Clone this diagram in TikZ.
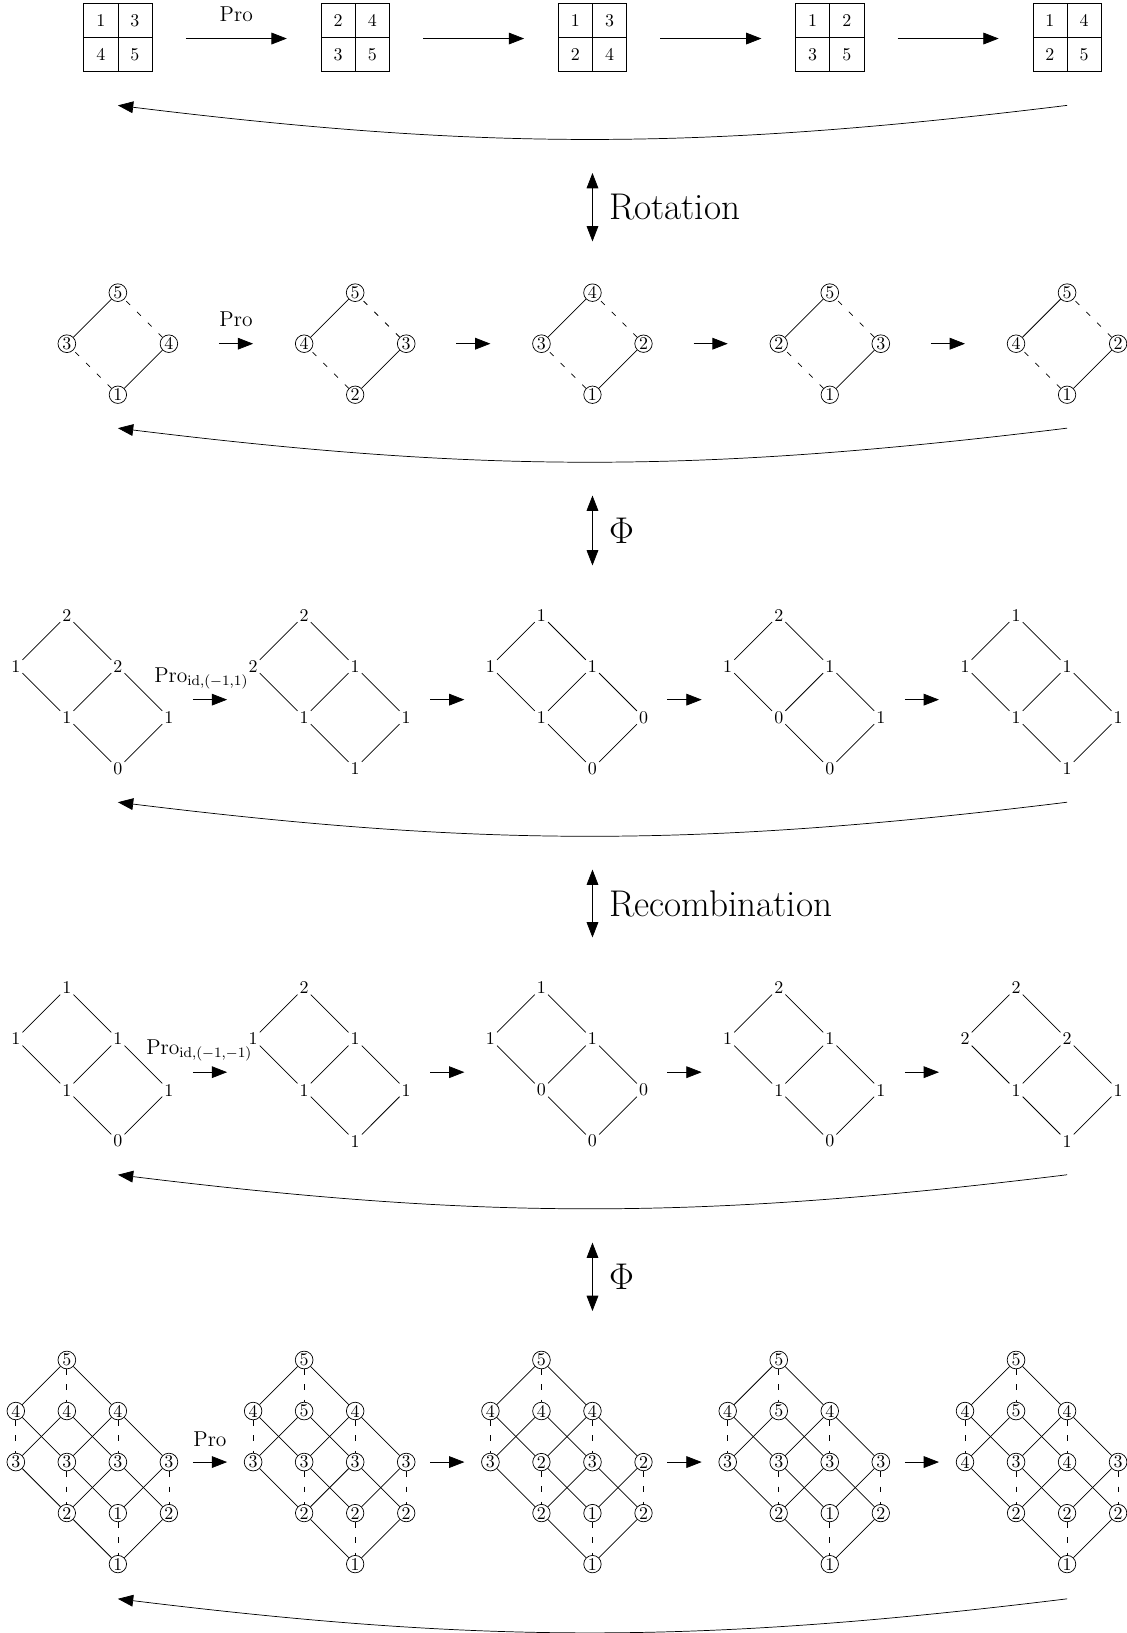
\documentclass[tikz,border=0pt]{standalone}
\usepackage{amsmath}
\usepackage{amssymb}
\usetikzlibrary{arrows.meta,positioning}

% 2x2 tableau: name, centre x, centre y, entries
\newcommand{\tabl}[7]{%
  \begin{scope}[shift={(#2,#3)}]
    \path
    node[cell] (#1a) at (-0.335,0.335) {#4}
    node[cell, right=6.7mm of #1a] (#1b) {#5}
    node[cell, below=6.7mm of #1a] (#1c) {#6}
    node[cell, right=6.7mm of #1c] (#1d) {#7};
    \coordinate (#1in) at (-1.34,-0.02);
    \coordinate (#1out) at (1.33,-0.02);
    \coordinate (#1ret) at (0,-1.33);
  \end{scope}}

% diamond: name, x, y (bottom), top, left, right, bottom
\newcommand{\diam}[7]{%
  \begin{scope}[shift={(#2,#3)}]
    \path
    node[circ] (#1b) at (0,0) {#7}
    node[circ, above left=1cm and 1cm of #1b] (#1l) {#5}
    node[circ, above right=1cm and 1cm of #1b] (#1r) {#6}
    node[circ, above right=1cm and 1cm of #1l] (#1t) {#4}
    (#1l) edge (#1t)
    (#1b) edge (#1r)
    (#1b) edge[dashes] (#1l)
    (#1r) edge[dashes] (#1t);
    \coordinate (#1in) at (-2.0,1);
    \coordinate (#1out) at (1.98,1);
    \coordinate (#1ret) at (0,-0.655);
  \end{scope}}

% ladder: name, x, y (bottom), top, left, right, mid, right2, bottom
\newcommand{\ladder}[9]{%
  \begin{scope}[shift={(#2,#3)}]
    \path
    node[num] (#1b) at (0,0) {#9}
    node[num, above left=1cm and 1cm of #1b] (#1m) {#7}
    node[num, above right=1cm and 1cm of #1b] (#1s) {#8}
    node[num, above left=1cm and 1cm of #1m] (#1l) {#5}
    node[num, above right=1cm and 1cm of #1m] (#1r) {#6}
    node[num, above left=1cm and 1cm of #1r] (#1t) {#4}
    (#1t) edge (#1l)
    (#1t) edge (#1r)
    (#1l) edge (#1m)
    (#1r) edge (#1m)
    (#1r) edge (#1s)
    (#1m) edge (#1b)
    (#1s) edge (#1b);
    \coordinate (#1in) at (-2.51,1.35);
    \coordinate (#1out) at (1.47,1.35);
    \coordinate (#1ret) at (0,-0.66);
  \end{scope}}

% cube: name, x, y (bottom), values read top-down, left-right
\newcommand{\cube}[4]{%
  \begin{scope}[shift={(#2,#3)}]
    \foreach \x/\y [count=\k from 0] in {-1/4,-2/3,-1/3,0/3,-2/2,-1/2,0/2,1/2,-1/1,0/1,1/1,0/0} {
      \pgfmathtruncatemacro{\val}{{#4}[\k]}
      \node[circ] (#1-\k) at (\x,\y) {\val};
    }
    \foreach \i/\j in {0/1,0/3,1/5,2/4,2/6,3/5,3/7,4/8,5/9,6/8,6/10,7/9,8/11,10/11}
      \draw (#1-\i) -- (#1-\j);
    \foreach \i/\j in {0/2,1/4,3/6,5/8,7/10,9/11}
      \draw[dashes] (#1-\i) -- (#1-\j);
    \coordinate (#1in) at (-2.51,2);
    \coordinate (#1out) at (1.47,2);
    \coordinate (#1ret) at (0,-0.68);
  \end{scope}}

\begin{document}
\begin{tikzpicture}[>={Triangle[length=3mm,width=2.3mm]}, on grid]
	\tikzstyle{cell} = [draw, minimum size=6.7mm, inner sep=0pt]
	\tikzstyle{circ} = [draw, circle, inner sep=0.5pt]
	\tikzstyle{num} = [inner sep=1pt]
	\tikzstyle{dashes} = [dash pattern=on 3pt off 5.5pt]
	\tikzstyle{lab} = [font=\large]
	\tikzstyle{big} = [font=\huge]
	\useasboundingbox (0,0) rectangle (22.08,-32);

	% tableaux
	\tabl{t1}{2.31}{-0.735}{1}{3}{4}{5}
	\tabl{t2}{6.96}{-0.735}{2}{4}{3}{5}
	\tabl{t3}{11.61}{-0.735}{1}{3}{2}{4}
	\tabl{t4}{16.26}{-0.735}{1}{2}{3}{5}
	\tabl{t5}{20.91}{-0.735}{1}{4}{2}{5}
	\draw[->] (t1out) -- node[lab, yshift=4.7mm] {Pro} (t2in);
	\draw[->] (t2out) -- (t3in);
	\draw[->] (t3out) -- (t4in);
	\draw[->] (t4out) -- (t5in);
	\draw[->] (t5ret) to[bend left=7] (t1ret);

	\coordinate (rot1) at (11.61,-3.39);
	\coordinate (rot2) at (11.61,-4.73);
	\draw[<->] (rot1) -- node[big, right=2mm] {Rotation} (rot2);

	% diamonds
	\diam{d1}{2.31}{-7.735}{5}{3}{4}{1}
	\diam{d2}{6.96}{-7.735}{5}{4}{3}{2}
	\diam{d3}{11.61}{-7.735}{4}{3}{2}{1}
	\diam{d4}{16.26}{-7.735}{5}{2}{3}{1}
	\diam{d5}{20.91}{-7.735}{5}{4}{2}{1}
	\draw[->] (d1out) -- node[lab, yshift=4.7mm] {Pro} (d2in);
	\draw[->] (d2out) -- (d3in);
	\draw[->] (d3out) -- (d4in);
	\draw[->] (d4out) -- (d5in);
	\draw[->] (d5ret) to[bend left=7] (d1ret);

	\coordinate (phi1) at (11.61,-9.71);
	\coordinate (phi2) at (11.61,-11.08);
	\draw[<->] (phi1) -- node[big, right=2mm] {$\Phi$} (phi2);

	% ladders
	\ladder{a1}{2.31}{-15.06}{2}{1}{2}{1}{1}{0}
	\ladder{a2}{6.96}{-15.06}{2}{2}{1}{1}{1}{1}
	\ladder{a3}{11.61}{-15.06}{1}{1}{1}{1}{0}{0}
	\ladder{a4}{16.26}{-15.06}{2}{1}{1}{0}{1}{0}
	\ladder{a5}{20.91}{-15.06}{1}{1}{1}{1}{1}{1}
	\draw[->] (a1out) -- node[lab, yshift=4.2mm, xshift=-1.7mm] {$\mathrm{Pro}_{\mathrm{id},(-1,1)}$} (a2in);
	\draw[->] (a2out) -- (a3in);
	\draw[->] (a3out) -- (a4in);
	\draw[->] (a4out) -- (a5in);
	\draw[->] (a5ret) to[bend left=7] (a1ret);

	\coordinate (rec1) at (11.61,-17.04);
	\coordinate (rec2) at (11.61,-18.37);
	\draw[<->] (rec1) -- node[big, right=2mm] {Recombination} (rec2);

	\ladder{b1}{2.31}{-22.36}{1}{1}{1}{1}{1}{0}
	\ladder{b2}{6.96}{-22.36}{2}{1}{1}{1}{1}{1}
	\ladder{b3}{11.61}{-22.36}{1}{1}{1}{0}{0}{0}
	\ladder{b4}{16.26}{-22.36}{2}{1}{1}{1}{1}{0}
	\ladder{b5}{20.91}{-22.36}{2}{2}{2}{1}{1}{1}
	\draw[->] (b1out) -- node[lab, yshift=4.2mm, xshift=-2.1mm] {$\mathrm{Pro}_{\mathrm{id},(-1,-1)}$} (b2in);
	\draw[->] (b2out) -- (b3in);
	\draw[->] (b3out) -- (b4in);
	\draw[->] (b4out) -- (b5in);
	\draw[->] (b5ret) to[bend left=7] (b1ret);

	\coordinate (phi3) at (11.61,-24.35);
	\coordinate (phi4) at (11.61,-25.69);
	\draw[<->] (phi3) -- node[big, right=2mm] {$\Phi$} (phi4);

	% cubes
	\cube{c1}{2.31}{-30.65}{5,4,4,4,3,3,3,3,2,1,2,1}
	\cube{c2}{6.96}{-30.65}{5,4,5,4,3,3,3,3,2,2,2,1}
	\cube{c3}{11.61}{-30.65}{5,4,4,4,3,2,3,2,2,1,2,1}
	\cube{c4}{16.26}{-30.65}{5,4,5,4,3,3,3,3,2,1,2,1}
	\cube{c5}{20.91}{-30.65}{5,4,5,4,4,3,4,3,2,2,2,1}
	\draw[->] (c1out) -- node[lab, yshift=4.5mm] {Pro} (c2in);
	\draw[->] (c2out) -- (c3in);
	\draw[->] (c3out) -- (c4in);
	\draw[->] (c4out) -- (c5in);
	\draw[->] (c5ret) to[bend left=7] (c1ret);
\end{tikzpicture}
\end{document}
